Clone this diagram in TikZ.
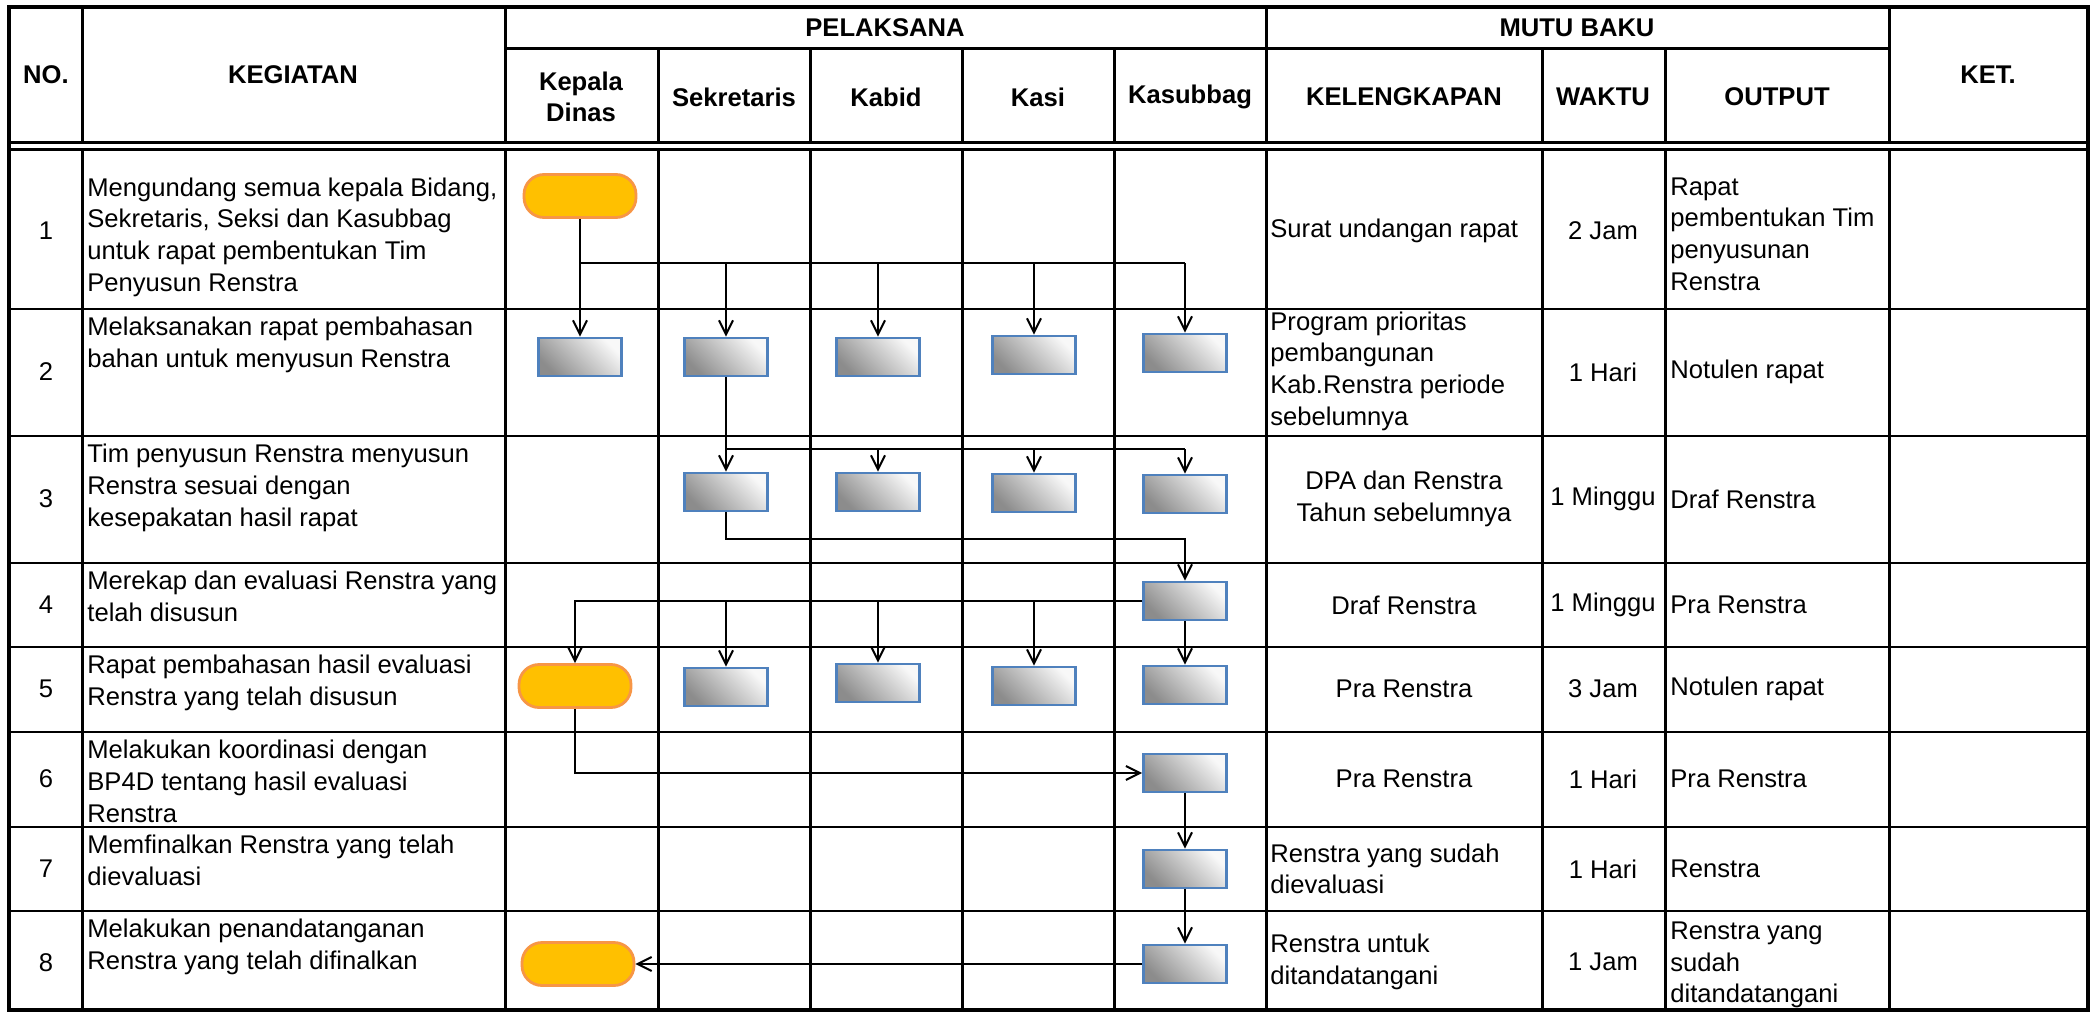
\documentclass[tikz,border=0pt]{standalone}
\usepackage{fontspec}
\setmainfont{Liberation Sans}
\usetikzlibrary{arrows.meta}
\definecolor{termFill}{HTML}{FFC000}
\definecolor{termLine}{HTML}{F79646}
\definecolor{boxLine}{HTML}{4F81BD}
\definecolor{boxDark}{HTML}{8C8C8C}
\definecolor{boxLight}{HTML}{F8F8F8}

\begin{document}
\begin{tikzpicture}[
  x=0.5pt, y=-0.5pt,
  font=\fontsize{12.8}{15.8}\selectfont,
  hdr/.style={font=\fontsize{12.8}{15.8}\selectfont\bfseries, align=center, inner sep=0pt},
  celltext/.style={inner sep=0pt, align=left},
  midtext/.style={inner sep=0pt, align=center},
  task/.style={
    rectangle, draw=boxLine, line width=1.4pt,
    minimum width=41.5pt, minimum height=19pt,
    left color=boxDark, right color=boxLight, shading angle=135
  },
  term/.style={
    rectangle, rounded corners=10pt,
    draw=termLine, line width=1.4pt, fill=termFill,
    minimum width=56pt, minimum height=21.5pt
  },
  flow/.style={-{Straight Barb[length=7pt,width=7pt]}, line width=1pt},
  wire/.style={line width=1pt},
  borderline/.style={line width=1.8pt},
  colline/.style={line width=1.5pt},
  rowline/.style={line width=0.8pt}
]
\useasboundingbox (0,0) rectangle (2092,1016);

%  Table grid
\draw[colline] (82,7) -- (82,143) (505,7) -- (505,143) (1266,7) -- (1266,143) (1889,7) -- (1889,143);
\draw[colline] (658,49) -- (658,143) (810,49) -- (810,143) (962,49) -- (962,143) (1114,49) -- (1114,143)
  (1542,49) -- (1542,143) (1665,49) -- (1665,143);
\draw[colline] (82,149) -- (82,1010) (505,149) -- (505,1010) (658,149) -- (658,1010) (810,149) -- (810,1010)
  (962,149) -- (962,1010) (1114,149) -- (1114,1010) (1266,149) -- (1266,1010) (1542,149) -- (1542,1010)
  (1665,149) -- (1665,1010) (1889,149) -- (1889,1010);
\draw[colline] (505,49) -- (1889,49);
\draw[colline] (9,142.5) -- (2088,142.5) (9,149.5) -- (2088,149.5);
\draw[rowline] (9,309) -- (2088,309) (9,436) -- (2088,436) (9,563) -- (2088,563) (9,647) -- (2088,647)
  (9,732) -- (2088,732) (9,827) -- (2088,827) (9,911) -- (2088,911);
\draw[borderline] (9,7) rectangle (2088,1010);

%  Header
\node[hdr] (hNo)   at (46,75)    {NO.};
\node[hdr] (hKeg)  at (293,75)   {KEGIATAN};
\node[hdr] (hPel)  at (885,28)   {PELAKSANA};
\node[hdr] (hKd)   at (581,97)   {Kepala\\Dinas};
\node[hdr] (hSek)  at (734,97)   {Sekretaris};
\node[hdr] (hKab)  at (886,97)   {Kabid};
\node[hdr] (hKasi) at (1038,97)  {Kasi};
\node[hdr] (hSub)  at (1190,97)  {Kasubbag};
\node[hdr] (hMutu) at (1577,28)  {MUTU BAKU};
\node[hdr] (hKel)  at (1404,97)  {KELENGKAPAN};
\node[hdr] (hWkt)  at (1603,97)  {WAKTU};
\node[hdr] (hOut)  at (1777,97)  {OUTPUT};
\node[hdr] (hKet)  at (1988,75)  {KET.};

%  Numbers
\node[midtext] (no1) at (46,231) {1};
\node[midtext] (no2) at (46,372) {2};
\node[midtext] (no3) at (46,499) {3};
\node[midtext] (no4) at (46,605) {4};
\node[midtext] (no5) at (46,689) {5};
\node[midtext] (no6) at (46,779) {6};
\node[midtext] (no7) at (46,869) {7};
\node[midtext] (no8) at (46,963) {8};

%  Kegiatan
\node[celltext, anchor=west] (keg1) at (87,237) {Mengundang semua kepala Bidang,\\Sekretaris, Seksi dan Kasubbag\\untuk rapat pembentukan Tim\\Penyusun Renstra};
\node[celltext, anchor=north west] (keg2) at (87,317) {Melaksanakan rapat pembahasan\\bahan untuk menyusun Renstra};
\node[celltext, anchor=north west] (keg3) at (87,444) {Tim penyusun Renstra menyusun\\Renstra sesuai dengan\\kesepakatan hasil rapat};
\node[celltext, anchor=north west] (keg4) at (87,571) {Merekap dan evaluasi Renstra yang\\telah disusun};
\node[celltext, anchor=north west] (keg5) at (87,655) {Rapat pembahasan hasil evaluasi\\Renstra yang telah disusun};
\node[celltext, anchor=north west] (keg6) at (87,740) {Melakukan koordinasi dengan\\BP4D tentang hasil evaluasi\\Renstra};
\node[celltext, anchor=north west] (keg7) at (87,835) {Memfinalkan Renstra yang telah\\dievaluasi};
\node[celltext, anchor=north west] (keg8) at (87,919) {Melakukan penandatanganan\\Renstra yang telah difinalkan};

%  Kelengkapan
\node[celltext, anchor=west] (kel1) at (1270,231) {Surat undangan rapat};
\node[celltext, anchor=west] (kel2) at (1270,371) {Program prioritas\\pembangunan\\Kab.Renstra periode\\sebelumnya};
\node[midtext] (kel3) at (1404,499) {DPA dan Renstra\\Tahun sebelumnya};
\node[midtext] (kel4) at (1404,605) {Draf Renstra};
\node[midtext] (kel5) at (1404,689) {Pra Renstra};
\node[midtext] (kel6) at (1404,779) {Pra Renstra};
\node[celltext, anchor=west] (kel7) at (1270,869) {Renstra yang sudah\\dievaluasi};
\node[celltext, anchor=west] (kel8) at (1270,962) {Renstra untuk\\ditandatangani};

%  Waktu
\node[midtext] (wkt1) at (1603,231) {2 Jam};
\node[midtext] (wkt2) at (1603,372) {1 Hari};
\node[midtext] (wkt3) at (1603,499) {1 Minggu};
\node[midtext] (wkt4) at (1603,605) {1 Minggu};
\node[midtext] (wkt5) at (1603,689) {3 Jam};
\node[midtext] (wkt6) at (1603,779) {1 Hari};
\node[midtext] (wkt7) at (1603,869) {1 Hari};
\node[midtext] (wkt8) at (1603,962) {1 Jam};

%  Output
\node[celltext, anchor=west] (out1) at (1670,234) {Rapat\\pembentukan Tim\\penyusunan\\Renstra};
\node[celltext, anchor=west] (out2) at (1670,372) {Notulen rapat};
\node[celltext, anchor=west] (out3) at (1670,499) {Draf Renstra};
\node[celltext, anchor=west] (out4) at (1670,605) {Pra Renstra};
\node[celltext, anchor=west] (out5) at (1670,689) {Notulen rapat};
\node[celltext, anchor=west] (out6) at (1670,779) {Pra Renstra};
\node[celltext, anchor=west] (out7) at (1670,869) {Renstra};
\node[celltext, anchor=west] (out8) at (1670,965) {Renstra yang\\sudah\\ditandatangani};

%  Flow shapes
\node[term] (start) at (580,196) {};
\node[task] (kd2)   at (580,357) {};
\node[task] (sek2)  at (726,357) {};
\node[task] (kab2)  at (878,357) {};
\node[task] (kasi2) at (1034,355) {};
\node[task] (sub2)  at (1185,353) {};
\node[task] (sek3)  at (726,492) {};
\node[task] (kab3)  at (878,492) {};
\node[task] (kasi3) at (1034,493) {};
\node[task] (sub3)  at (1185,494) {};
\node[task] (sub4)  at (1185,601) {};
\node[term] (meet)  at (575,686) {};
\node[task] (sek5)  at (726,687) {};
\node[task] (kab5)  at (878,683) {};
\node[task] (kasi5) at (1034,686) {};
\node[task] (sub5)  at (1185,685) {};
\node[task] (sub6)  at (1185,773) {};
\node[task] (sub7)  at (1185,869) {};
\node[task] (sub8)  at (1185,964) {};
\node[term] (sign)  at (578,964) {};

%  Connectors
\coordinate (fan1) at (1185,263);
\draw[flow] (start) -- (kd2);
\draw[wire] (start.south |- fan1) -- (fan1);
\draw[flow] (sek2.north |- fan1) -- (sek2);
\draw[flow] (kab2.north |- fan1) -- (kab2);
\draw[flow] (kasi2.north |- fan1) -- (kasi2);
\draw[flow] (fan1) -- (sub2);

\coordinate (fan2) at (1185,449);
\draw[flow] (sek2) -- (sek3);
\draw[wire] (sek2.south |- fan2) -- (fan2);
\draw[flow] (kab3.north |- fan2) -- (kab3);
\draw[flow] (kasi3.north |- fan2) -- (kasi3);
\draw[flow] (fan2) -- (sub3);

\coordinate (bend3) at (1185,539);
\draw[flow] (sek3.south) |- (bend3) -- (sub4);

\draw[flow] (sub4.west) -| (meet);
\draw[flow] (sek5.north |- sub4.west) -- (sek5);
\draw[flow] (kab5.north |- sub4.west) -- (kab5);
\draw[flow] (kasi5.north |- sub4.west) -- (kasi5);
\draw[flow] (sub4) -- (sub5);

\draw[flow] (meet) |- (sub6);
\draw[flow] (sub6) -- (sub7);
\draw[flow] (sub7) -- (sub8);
\draw[flow] (sub8) -- (sign);

\end{tikzpicture}
\end{document}
